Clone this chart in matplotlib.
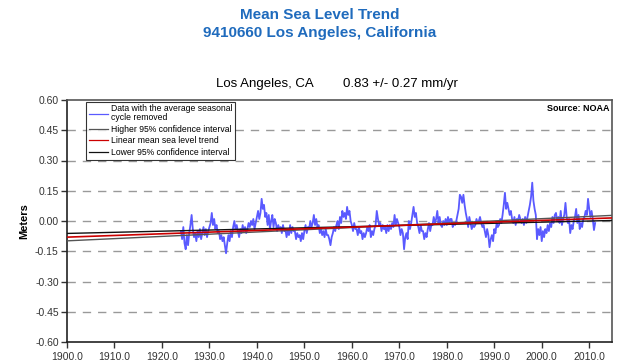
import matplotlib
matplotlib.use("Agg")
import matplotlib.pyplot as plt
import numpy as np

plt.rcParams['font.family'] = ['Liberation Sans', 'DejaVu Sans']

# Quarterly mean sea level (m), seasonal cycle removed, starting 1924.0
start_year = 1924.0
step = 0.25
msl = [
    -0.05, -0.09, -0.03, -0.11,  # 1924
    -0.14, -0.07, -0.12, -0.06,
    -0.02, 0.03, -0.04, -0.08,
    -0.06, -0.10, -0.05, -0.08,
    -0.04, -0.09, -0.06, -0.03,
    -0.07, -0.04, -0.08, -0.05,
    -0.03, -0.01, 0.04, -0.02,   # 1930
    0.01, -0.04, -0.02, -0.06,
    -0.05, -0.09, -0.07, -0.10,
    -0.08, -0.12, -0.16, -0.11,
    -0.07, -0.10, -0.05, -0.08,
    -0.03, 0.00, -0.04, -0.02,
    -0.05, -0.08, -0.04, -0.06,
    -0.02, -0.05, -0.03, -0.06,
    -0.04, -0.01, -0.03, 0.00,
    -0.02, 0.01, -0.04, -0.01,
    0.02, 0.05, 0.01, 0.04,      # 1940
    0.11, 0.06, 0.08, 0.02,
    0.04, -0.02, 0.03, -0.04,
    0.00, 0.03, -0.03, 0.01,
    -0.01, -0.05, -0.02, -0.04,
    -0.03, -0.06, -0.02, -0.05,
    -0.04, -0.08, -0.05, -0.07,
    -0.02, -0.06, -0.03, -0.05,
    -0.05, -0.09, -0.06, -0.08,
    -0.07, -0.10, -0.06, -0.09,
    -0.05, -0.02, -0.06, -0.03,  # 1950
    -0.04, 0.00, -0.03, -0.01,
    0.03, -0.02, 0.01, -0.03,
    -0.02, -0.06, -0.04, -0.07,
    -0.05, -0.08, -0.04, -0.07,
    -0.07, -0.09, -0.12, -0.08,
    -0.06, -0.03, -0.05, -0.02,
    0.00, -0.04, 0.02, -0.01,
    0.05, 0.02, 0.04, 0.01,
    0.07, 0.03, 0.05, 0.00,
    -0.02, -0.05, -0.01, -0.04,  # 1960
    -0.04, -0.07, -0.03, -0.06,
    -0.05, -0.09, -0.06, -0.08,
    -0.06, -0.03, -0.05, -0.02,
    -0.08, -0.05, -0.07, -0.04,
    -0.02, 0.05, 0.01, -0.02,
    -0.01, -0.05, -0.02, -0.04,
    -0.03, -0.06, -0.02, -0.05,
    -0.02, -0.04, -0.01, -0.03,
    0.03, -0.02, 0.01, -0.01,
    -0.03, -0.07, -0.04, -0.06,  # 1970
    -0.14, -0.08, -0.06, -0.09,
    0.00, -0.04, -0.01, 0.03,
    0.07, 0.02, 0.04, -0.01,
    -0.03, -0.06, -0.02, -0.05,
    -0.05, -0.09, -0.06, -0.08,
    -0.04, -0.01, -0.05, -0.02,
    -0.02, 0.02, -0.01, 0.01,
    0.05, -0.01, 0.02, -0.02,
    -0.03, 0.00, -0.02, 0.01,
    -0.02, 0.02, -0.01, 0.01,    # 1980
    0.01, -0.03, -0.01, -0.02,
    0.00, 0.03, 0.06, 0.13,
    0.12, 0.09, 0.13, 0.08,
    0.04, 0.01, -0.03, 0.02,
    -0.01, -0.04, -0.02, -0.03,
    -0.02, 0.01, -0.01, 0.00,
    0.02, -0.01, -0.03, -0.02,
    -0.05, -0.08, -0.04, -0.07,
    -0.13, -0.09, -0.07, -0.10,
    -0.04, -0.06, -0.01, -0.03,  # 1990
    -0.02, 0.01, -0.01, 0.03,
    0.08, 0.14, 0.06, 0.09,
    0.06, 0.03, 0.05, 0.01,
    -0.01, 0.02, -0.02, 0.01,
    0.00, 0.03, 0.01, -0.01,
    0.01, -0.02, 0.02, -0.01,
    0.02, 0.05, 0.08, 0.12,
    0.19, 0.10, 0.06, 0.03,
    -0.09, -0.04, -0.07, -0.03,
    -0.10, -0.05, -0.08, -0.04,  # 2000
    -0.06, -0.02, -0.05, -0.01,
    -0.03, 0.02, -0.01, 0.03,
    0.04, 0.00, 0.02, -0.01,
    0.05, -0.02, 0.01, 0.03,
    0.09, 0.02, -0.01, 0.01,
    -0.06, -0.02, -0.04, 0.00,
    0.02, 0.06, -0.01, 0.03,
    -0.04, -0.01, -0.03, 0.01,
    0.02, 0.05, 0.03, 0.11,
    0.06, 0.02, 0.05, 0.01,      # 2010
    -0.045, -0.01,
]

trend_rate = 0.83      # mm/yr
trend_ci = 0.27        # mm/yr
pivot_year = 1968.0
pivot_value = -0.0236  # m
line_years = [1900.0, 2015.0]

yticks = [0.60, 0.45, 0.30, 0.15, 0.00, -0.15, -0.30, -0.45, -0.60]
xticks = [1900, 1910, 1920, 1930, 1940, 1950, 1960, 1970, 1980, 1990, 2000, 2010]

t = start_year + step * np.arange(len(msl))
ly = np.array(line_years)

def trend(rate):
    return pivot_value + rate / 1000.0 * (ly - pivot_year)

fig = plt.figure(figsize=(6.4, 3.64), dpi=100)
ax = fig.add_axes([67 / 640, 1 - 342 / 364, (612 - 67) / 640, (342 - 100) / 364])

ax.plot(t, msl, color='#5a5aff', lw=1.3, label='Data with the average seasonal\ncycle removed', zorder=2)
ax.plot(ly, trend(trend_rate + trend_ci), color='#555555', lw=1.0,
        label='Higher 95% confidence interval', zorder=3)
ax.plot(ly, trend(trend_rate), color='#cc0000', lw=1.2,
        label='Linear mean sea level trend', zorder=4)
ax.plot(ly, trend(trend_rate - trend_ci), color='#111111', lw=1.0,
        label='Lower 95% confidence interval', zorder=3)

ax.set_xlim(1900, 2014.8)
ax.set_ylim(-0.60, 0.60)
ax.set_yticks(yticks)
ax.set_yticklabels([f"{v:.2f}" for v in yticks])
ax.set_xticks(xticks)
ax.set_xticklabels([f"{v:.1f}" for v in xticks])
ax.tick_params(axis='both', labelsize=7.5, colors='#333333', direction='out', length=4, width=1)
ax.tick_params(axis='y', pad=2)

for v in yticks[1:-1]:
    ax.axhline(v, color='#999999', lw=1.0, ls=(0, (6, 5)), zorder=1)

for s in ['left', 'bottom']:
    ax.spines[s].set_color('#222222')
    ax.spines[s].set_linewidth(1.2)
for s in ['top', 'right']:
    ax.spines[s].set_color('#555555')
    ax.spines[s].set_linewidth(1.2)

ax.set_ylabel('Meters', fontsize=8, fontweight='bold', labelpad=4)

leg = ax.legend(loc='upper left', bbox_to_anchor=(0.035, 0.993), fontsize=6.2,
                frameon=True, fancybox=False, borderpad=0.3, labelspacing=0.32,
                handlelength=2.2, handletextpad=0.4, borderaxespad=0.0)
leg.get_frame().set_edgecolor('#000000')
leg.get_frame().set_linewidth(0.8)
for h in leg.get_lines():
    h.set_linewidth(0.9)
for txt in leg.get_texts():
    txt.set_linespacing(0.95)

ax.text(0.995, 0.985, 'Source: NOAA', transform=ax.transAxes, ha='right', va='top',
        fontsize=6.5, fontweight='bold')

fig.text(0.5, 1 - 15 / 364, 'Mean Sea Level Trend', ha='center', va='center',
         fontsize=11, fontweight='bold', color='#1f6bbd')
fig.text(0.5, 1 - 33 / 364, '9410660 Los Angeles, California', ha='center', va='center',
         fontsize=11, fontweight='bold', color='#1f6bbd')
fig.text(264.5 / 640, 1 - 84 / 364, 'Los Angeles, CA', ha='center', va='center', fontsize=9.5)
fig.text(400 / 640, 1 - 84 / 364, '0.83 +/- 0.27 mm/yr', ha='center', va='center', fontsize=9.5)

fig.savefig('out.png', dpi=100)
